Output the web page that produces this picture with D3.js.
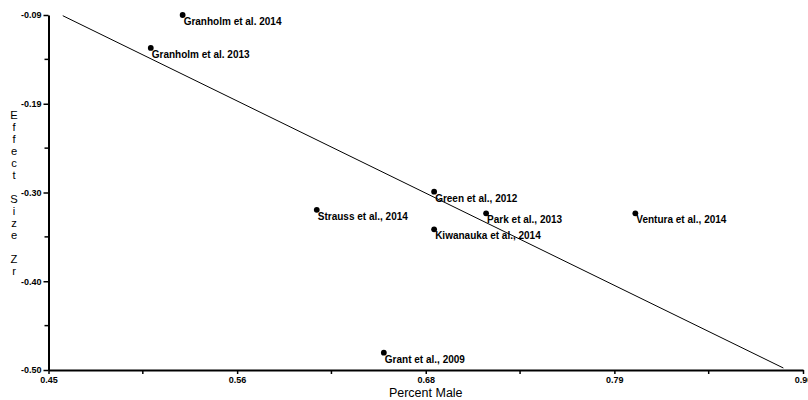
<!DOCTYPE html>
<html>
<head>
<meta charset="utf-8">
<script src="https://cdn.jsdelivr.net/npm/d3@7"></script>
<style>
  body { margin: 0; background: #fff; }
  svg { display: block; font-family: "Liberation Sans", Arial, sans-serif; }
  .tick text { font-weight: bold; font-size: 9px; fill: #000; }
  .study { font-weight: bold; font-size: 10px; fill: #000; }
  .ytitle { writing-mode: vertical-rl; text-orientation: upright; }
</style>
</head>
<body>
<div id="chart"></div>
<script>
// ---- Data ----
const studies = ["Granholm et al. 2014", "Granholm et al. 2013", "Strauss et al., 2014",
  "Green et al., 2012", "Park et al., 2013", "Kiwanauka et al., 2014",
  "Grant et al., 2009", "Ventura et al., 2014"];
const percentMale = [0.530, 0.511, 0.610, 0.680, 0.711, 0.680, 0.650, 0.800];
const effectSize = [-0.090, -0.128, -0.315, -0.294, -0.319, -0.3375, -0.480, -0.319];

// fitted line endpoints [percent male, Zr]
const fitX = [0.4585, 0.8883];
const fitY = [-0.0908, -0.4977];

const xTicks = [0.45, 0.5625, 0.675, 0.7875, 0.90];
const xTickLabels = ["0.45", "0.56", "0.68", "0.79", "0.90"];
const yTicks = [-0.09, -0.1925, -0.295, -0.3975, -0.50];
const yTickLabels = ["-0.09", "-0.19", "-0.30", "-0.40", "-0.50"];

const W = 808, H = 400;
const svg = d3.select("#chart").append("svg").attr("width", W).attr("height", H);

// ---- Scales ----
const x = d3.scaleLinear().domain([0.45, 0.90]).range([48.5, 803]);
const y = d3.scaleLinear().domain([-0.50, -0.09]).range([370, 15]);

// minor ticks halfway between the labelled ones
const xMinor = d3.pairs(xTicks).map(([a, b]) => (a + b) / 2);
const yMinor = d3.pairs(yTicks).map(([a, b]) => (a + b) / 2);

// ---- Axes ----
const xAxis = svg.append("g").attr("transform", `translate(0,${y.range()[0]})`)
  .call(d3.axisBottom(x).tickValues(xTicks).tickFormat((d, i) => xTickLabels[i])
    .tickSize(4).tickSizeOuter(0).tickPadding(3));
xAxis.append("g").selectAll("line").data(xMinor).join("line")
  .attr("x1", d => x(d)).attr("x2", d => x(d)).attr("y1", 0).attr("y2", 4)
  .attr("stroke", "#000").attr("stroke-width", 1.5);

const yAxis = svg.append("g").attr("transform", `translate(${x.range()[0]},0)`)
  .call(d3.axisLeft(y).tickValues(yTicks).tickFormat((d, i) => yTickLabels[i])
    .tickSize(5).tickSizeOuter(0).tickPadding(2));
yAxis.append("g").selectAll("line").data(yMinor).join("line")
  .attr("x1", 0).attr("x2", -4).attr("y1", d => y(d)).attr("y2", d => y(d))
  .attr("stroke", "#000").attr("stroke-width", 1.5);

svg.selectAll(".domain").attr("stroke", "#000").attr("stroke-width", 2);
svg.selectAll(".tick line").attr("stroke", "#000").attr("stroke-width", 1.5);

// ---- Axis titles ----
svg.append("text").attr("x", (x.range()[0] + x.range()[1]) / 2).attr("y", 397)
  .attr("text-anchor", "middle").attr("font-size", 12.5).text("Percent Male");

// vertical title, letters stacked upright
svg.append("text").attr("class", "ytitle")
  .attr("x", 14).attr("y", 109)
  .attr("font-size", 11.2).attr("font-weight", 500)
  .text("Effect Size Zr");

// ---- Fitted line ----
svg.append("line")
  .attr("x1", x(fitX[0])).attr("y1", y(fitY[0]))
  .attr("x2", x(fitX[1])).attr("y2", y(fitY[1]))
  .attr("stroke", "#000").attr("stroke-width", 1);

// ---- Points & labels ----
const pts = svg.append("g").selectAll("g").data(studies).join("g")
  .attr("transform", (d, i) => `translate(${x(percentMale[i])},${y(effectSize[i])})`);
pts.append("circle").attr("r", 2.9).attr("fill", "#000");
pts.append("text").attr("class", "study").attr("x", 1).attr("y", 10).text(d => d);
</script>
</body>
</html>
